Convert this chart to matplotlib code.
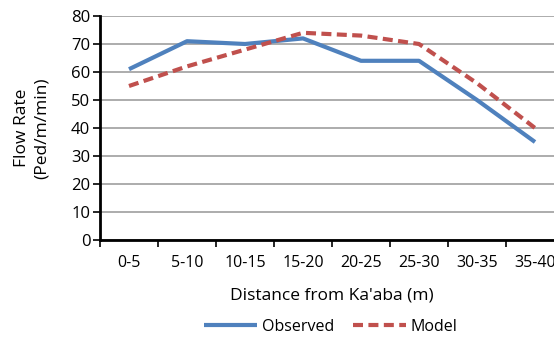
import matplotlib
matplotlib.use("Agg")
import matplotlib.pyplot as plt
import numpy as np

categories = ["0-5", "5-10", "10-15", "15-20", "20-25", "25-30", "30-35", "35-40"]
observed = [61, 71, 70, 72, 64, 64, 50, 35]
model = [55, 62, 68, 74, 73, 70, 56, 40]

plt.rcParams['font.family'] = ['Open Sans', 'DejaVu Sans']

fig = plt.figure(figsize=(5.54, 3.37), dpi=100)
ax = fig.add_axes([100/554, 1-240/337, 464/554, 224/337])

x = np.arange(len(categories))
ax.plot(x, observed, color="#4F81BD", lw=3.0, label="Observed", solid_capstyle='butt')
ax.plot(x, model, color="#C0504D", lw=3.0, ls=(0, (2.4, 1.3)), label="Model")

ax.set_xlim(-0.5, 7.5)
ax.set_ylim(0, 80)
ax.set_yticks(range(0, 81, 10))
ax.yaxis.grid(True, color="#A6A6A6", lw=1.3)
ax.set_axisbelow(True)
ax.set_xticks(x)
ax.set_xticklabels(categories, fontsize=11.5)
ax.tick_params(axis='x', which='major', length=0, pad=11)
ax.set_xticks(np.arange(-0.5, 8, 1), minor=True)
ax.tick_params(axis='x', which='minor', length=5, width=1.2, direction='out')
ax.tick_params(axis='y', length=5, width=1.2, direction='out', labelsize=12, pad=2)
for s in ['top', 'right']:
    ax.spines[s].set_visible(False)
for s in ['left', 'bottom']:
    ax.spines[s].set_linewidth(2.0)
    ax.spines[s].set_color('black')

fig.text(332/554, 1-296/337, "Distance from Ka'aba (m)", ha='center', va='center', fontsize=12.5)
fig.text(32/554, 1-128/337, "Flow Rate\n(Ped/m/min)", ha='center', va='center', rotation=90, fontsize=12.5, linespacing=1.3)

handles, labels = ax.get_legend_handles_labels()
fig.legend(handles, labels, loc='center', bbox_to_anchor=(331/554, 1-327/337), ncol=2, frameon=False,
           fontsize=11.5, handlelength=3.3, columnspacing=1.2, handletextpad=0.3)

fig.savefig("out.png", dpi=100)
